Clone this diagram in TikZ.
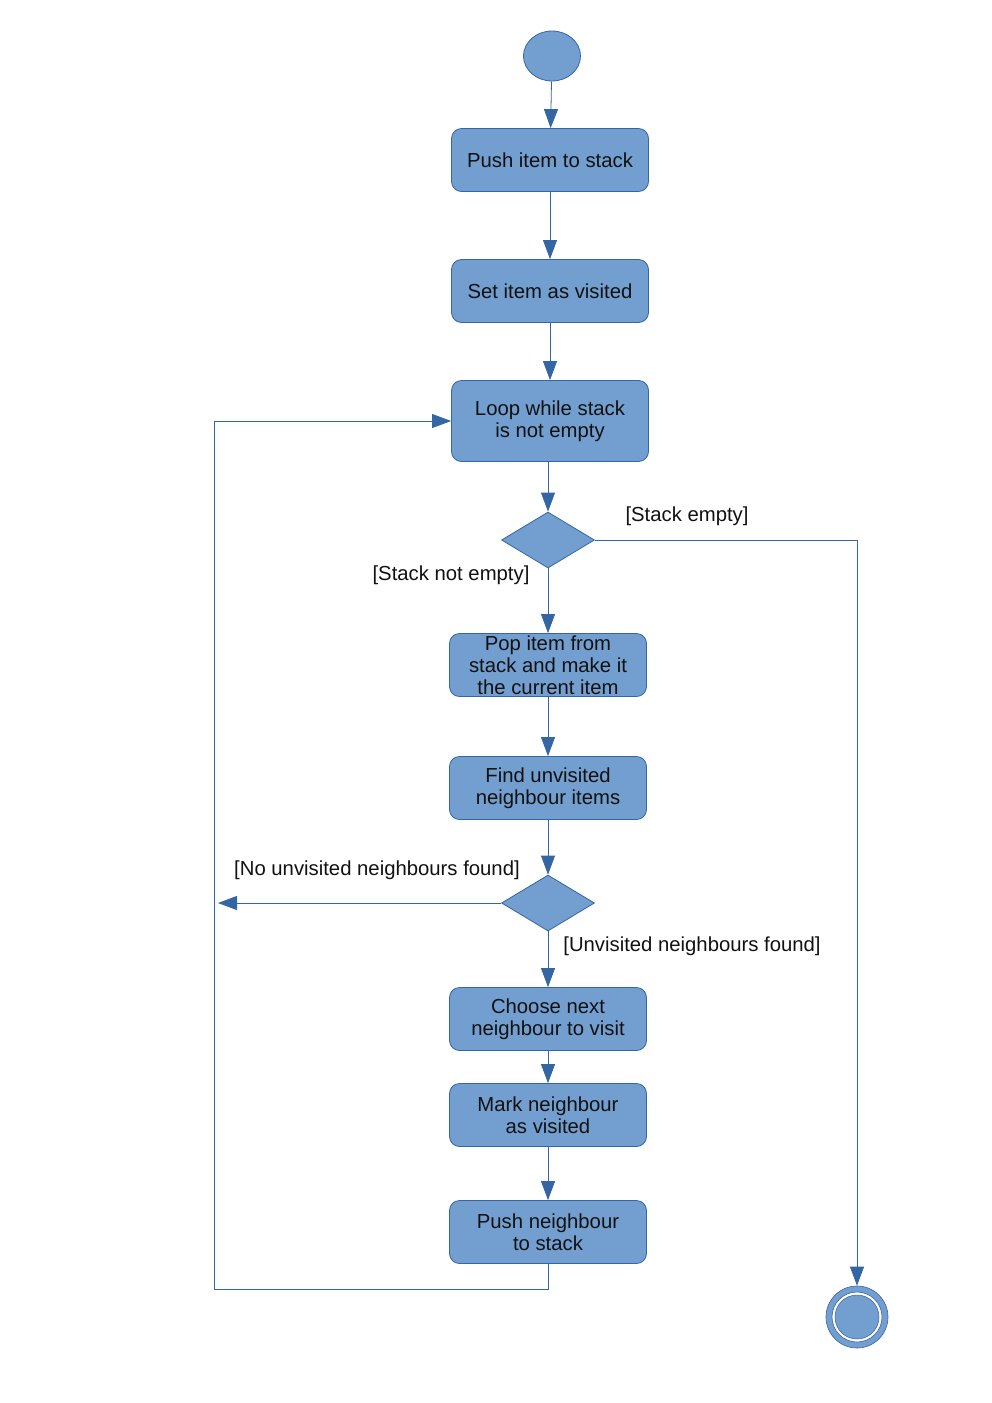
\documentclass[tikz,border=0pt]{standalone}
\usepackage{fontspec}
\setmainfont{Liberation Sans}
\usetikzlibrary{shapes.geometric,arrows.meta}
\definecolor{fillblue}{HTML}{729FCF}
\definecolor{lineblue}{HTML}{3465A4}
\definecolor{txt}{HTML}{111111}
\begin{document}
\begin{tikzpicture}[x=1pt,y=-1pt,
  act/.style={draw=lineblue,fill=fillblue,rounded corners=10pt,minimum width=197pt,minimum height=63pt,inner sep=0pt,align=center,text=txt,font=\fontsize{20.3}{22}\selectfont,line width=0.8pt},
  dec/.style={draw=lineblue,fill=fillblue,diamond,minimum width=93pt,minimum height=56pt,inner sep=0pt,line width=0.8pt},
  flow/.style={draw=lineblue,line width=0.8pt,-{Triangle[length=19pt,width=14pt]}},
  lbl/.style={text=txt,font=\fontsize{20.3}{22}\selectfont,inner sep=0pt}]
\useasboundingbox (0,0) rectangle (992,1403);
\node[draw=lineblue,fill=fillblue,ellipse,minimum width=57pt,minimum height=50pt,inner sep=0pt,line width=0.8pt] (start) at (552,56) {};
\node[act] (push) at (550,160) {Push item to stack};
\node[act] (setv) at (550,291) {Set item as visited};
\node[act,minimum height=81pt] (loop) at (550,421) {Loop while stack\\is not empty};
\node[dec] (d1) at (548,540) {};
\node[act] (pop) at (548,665) {Pop item from\\stack and make it\\the current item};
\node[act] (find) at (548,788) {Find unvisited\\neighbour items};
\node[dec] (d2) at (548,903) {};
\node[act] (choose) at (548,1019) {Choose next\\neighbour to visit};
\node[act] (mark) at (548,1115) {Mark neighbour\\as visited};
\node[act] (pushn) at (548,1232) {Push neighbour\\to stack};
\node[circle,draw=lineblue,fill=fillblue,minimum size=62pt,inner sep=0pt,line width=0.6pt] (end) at (857,1317) {};
\node[circle,draw=lineblue,fill=white,minimum size=50pt,inner sep=0pt,line width=0.6pt] (endgap) at (857,1317) {};
\node[circle,draw=lineblue,fill=fillblue,minimum size=44pt,inner sep=0pt,line width=0.5pt] (endin) at (857,1317) {};
\coordinate (loopfree) at (218,903);
\draw[flow] (start) -- (push);
\draw[flow] (push) -- (setv);
\draw[flow] (setv) -- (loop);
\draw[flow] (loop.south -| d1.north) -- (d1);
\draw[flow] (d1) -- (pop);
\draw[flow] (pop) -- (find);
\draw[flow] (find) -- (d2);
\draw[flow] (d2) -- (choose);
\draw[flow] (choose) -- (mark);
\draw[flow] (mark) -- (pushn);
\draw[flow] (d2.west) -- (loopfree);
\draw[flow] (pushn.south) |- (214,1289) |- (loop.west);
\draw[flow] (d1.east) -| (end.north);
\node[lbl] (l1) at (687,516) {[Stack empty]};
\node[lbl] (l2) at (451,575) {[Stack not empty]};
\node[lbl] (l3) at (377,870) {[No unvisited neighbours found]};
\node[lbl] (l4) at (692,946) {[Unvisited neighbours found]};
\end{tikzpicture}
\end{document}
